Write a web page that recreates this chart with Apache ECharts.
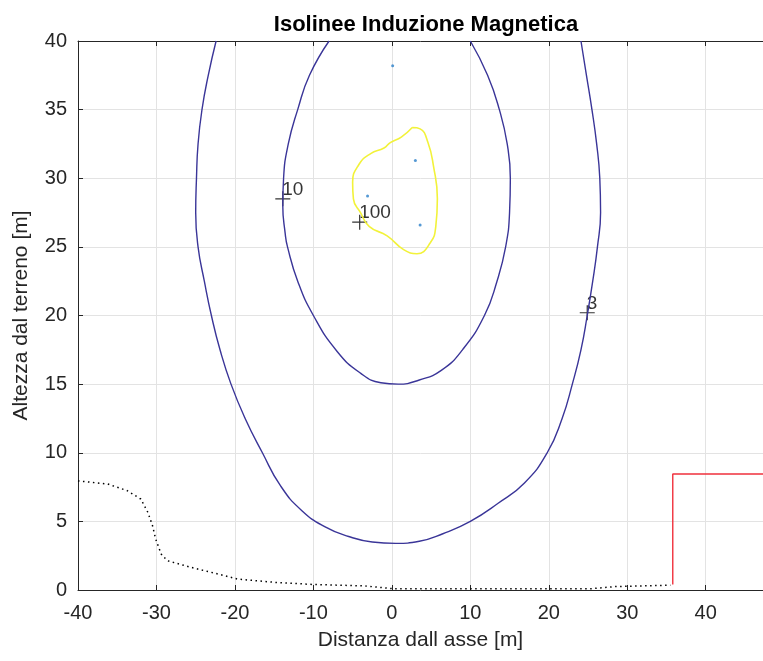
<!DOCTYPE html>
<html>
<head>
<meta charset="utf-8">
<script src="https://cdn.jsdelivr.net/npm/echarts@6/dist/echarts.min.js"></script>
<style>
html,body{margin:0;padding:0;background:#fff;}
#main{width:763px;height:661px;}
</style>
</head>
<body>
<div id="main"></div>
<script>
var chart = echarts.init(document.getElementById("main"));

// isolinea 3 (esterna)
var iso3 = [
	[-22.4, 40], [-23.4, 37.5], [-24.2, 35], [-24.7, 32.5], [-24.9, 30], [-25.0, 27.5],
	[-24.7, 25], [-23.9, 22.5], [-23.0, 20], [-21.9, 17.5], [-20.5, 15], [-18.7, 12.5],
	[-16.5, 10], [-14.2, 7.6], [-11.5, 5.8], [-8.5, 4.6], [-5.5, 3.9], [-2.5, 3.5],
	[0.5, 3.4], [3.5, 3.55], [6.5, 4.1], [10.0, 5.0], [13.5, 6.3], [16.9, 7.8],
	[19.8, 10], [21.7, 12.5], [23.0, 15], [24.1, 17.5], [24.9, 20], [25.6, 22.5],
	[26.2, 25], [26.6, 27.5], [26.5, 30], [26.1, 32.5], [25.5, 35], [24.8, 37.5], [24.1, 40]
];
// isolinea 10
var iso10 = [
	[-8.0, 40], [-10.5, 37.5], [-12.0, 35], [-13.2, 32.5], [-13.8, 30], [-13.9, 28],
	[-13.6, 26], [-13.3, 25], [-12.0, 22.5], [-10.0, 20], [-7.0, 17.4], [-4.0, 15.8],
	[-1.4, 15.1], [0.8, 15.0], [3.5, 15.3], [6.3, 16.0], [9.0, 17.5], [11.8, 20],
	[13.4, 22.5], [14.5, 25], [15.0, 27.5], [15.1, 30], [14.7, 32.5], [13.7, 35],
	[12.2, 37.5], [10.0, 40]
];
// isolinea 100
var iso100 = [
	[2.6, 33.7], [1.2, 33.0], [-0.2, 32.6], [-1.0, 32.2], [-2.7, 31.8], [-4.2, 31.0],
	[-5.0, 29.7], [-4.9, 28.5], [-4.0, 27.5], [-2.9, 26.5], [-0.6, 25.8], [1.5, 24.8],
	[3.2, 24.5], [4.9, 25.3], [5.6, 26.5], [5.8, 28.5], [5.3, 30.9], [4.6, 32.6],
	[3.6, 33.6], [2.6, 33.7]
];
// conduttori
var conduttori = [[0.1, 38.2], [3.0, 31.3], [-3.1, 28.7], [3.6, 26.6]];
// etichette isolinee
var etichette = [
	{name: "10", value: [-13.9, 28.5]},
	{name: "100", value: [-4.1, 26.8]},
	{name: "3", value: [24.9, 20.2]}
];
// profilo del terreno
var terreno = [
	[-40, 7.95], [-36.2, 7.72], [-33.7, 7.23], [-32.0, 6.63], [-31.1, 5.66], [-30.5, 4.68],
	[-30.1, 3.71], [-29.4, 2.62], [-28.6, 2.13], [-25.6, 1.65], [-22.2, 1.17], [-19.7, 0.8],
	[-15.0, 0.56], [-10.0, 0.4], [-3.5, 0.3], [0, 0.1], [25.5, 0.1], [28.5, 0.25], [35.5, 0.35]
];
// edificio
var edificio = [[35.8, 0.4], [35.8, 8.45], [47.3, 8.45]];

var font = "Liberation Sans";
var croce = "path://M0,4.6H10V5.4H0Z M4.6,0H5.4V10H4.6Z";

var option = {
	backgroundColor: "#fff",
	animation: false,
	title: {
		text: "Isolinee Induzione Magnetica",
		left: 421,
		textAlign: "center",
		top: 9,
		textStyle: {fontFamily: font, fontSize: 22, fontWeight: "bold", color: "#000"}
	},
	grid: {left: 78, right: 0, top: 41, bottom: 71},
	xAxis: [{
		type: "value",
		min: -40,
		max: 47.3,
		interval: 10,
		name: "Distanza dall asse [m]",
		nameLocation: "middle",
		nameGap: 40,
		nameTextStyle: {fontFamily: font, fontSize: 21, color: "#262626"},
		axisLine: {show: true, onZero: false, lineStyle: {color: "#262626", width: 1}},
		axisTick: {show: true, inside: true, length: 5, lineStyle: {color: "#262626"}},
		axisLabel: {fontFamily: font, fontSize: 20, color: "#262626", margin: 13, showMaxLabel: false},
		splitLine: {show: true, lineStyle: {color: "#e3e3e3", width: 1}}
	}, {
		type: "value",
		position: "top",
		min: -40,
		max: 47.3,
		interval: 10,
		axisLine: {show: true, onZero: false, lineStyle: {color: "#262626", width: 1}},
		axisTick: {show: true, inside: true, length: 5, lineStyle: {color: "#262626"}},
		axisLabel: {show: false},
		splitLine: {show: false}
	}],
	yAxis: {
		type: "value",
		min: 0,
		max: 40,
		interval: 5,
		name: "Altezza dal terreno [m]",
		nameLocation: "middle",
		nameGap: 46,
		nameTextStyle: {fontFamily: font, fontSize: 21, color: "#262626"},
		axisLine: {show: true, onZero: false, lineStyle: {color: "#262626", width: 1}},
		axisTick: {show: true, inside: true, length: 5, lineStyle: {color: "#262626"}},
		axisLabel: {fontFamily: font, fontSize: 20, color: "#262626", margin: 11},
		splitLine: {show: true, lineStyle: {color: "#e3e3e3", width: 1}}
	},
	series: [
		{
			name: "terreno", type: "line", data: terreno, symbol: "none",
			lineStyle: {color: "#000", width: 1.5, type: [1.5, 3.5]}
		},
		{
			name: "edificio", type: "line", data: edificio, symbol: "none",
			lineStyle: {color: "#f0303c", width: 1.4}
		},
		{
			name: "3", type: "line", data: iso3, symbol: "none", smooth: 0.5,
			lineStyle: {color: "#3a3598", width: 1.4}
		},
		{
			name: "10", type: "line", data: iso10, symbol: "none", smooth: 0.5,
			lineStyle: {color: "#3a3598", width: 1.4}
		},
		{
			name: "100", type: "line", data: iso100, symbol: "none", smooth: 0.5,
			lineStyle: {color: "#f2f23a", width: 1.6}
		},
		{
			name: "conduttori", type: "scatter", data: conduttori,
			symbol: "circle", symbolSize: 3,
			itemStyle: {color: "#2a7fc9"}
		},
		{
			name: "etichette", type: "scatter", data: etichette,
			symbol: croce, symbolSize: 15,
			itemStyle: {color: "#000"},
			label: {
				show: true,
				formatter: "{b}",
				position: [7, -11],
				fontFamily: font,
				fontSize: 19,
				color: "#000"
			}
		}
	]
};

chart.setOption(option);
</script>
</body>
</html>
